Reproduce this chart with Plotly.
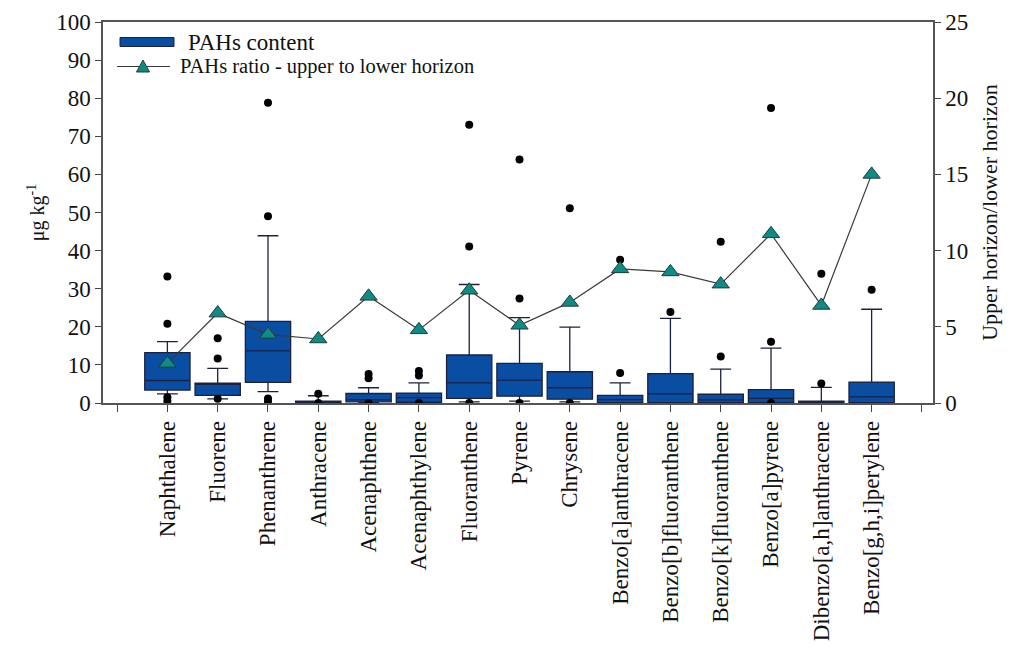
import plotly.graph_objects as go

# Compounds (x positions 1..15)
compounds = ["Naphthalene", "Fluorene", "Phenanthrene", "Anthracene", "Acenaphthene",
             "Acenaphthylene", "Fluoranthene", "Pyrene", "Chrysene", "Benzo[a]anthracene",
             "Benzo[b]fluoranthene", "Benzo[k]fluoranthene", "Benzo[a]pyrene",
             "Dibenzo[a,h]anthracene", "Benzo[g,h,i]perylene"]

# Box statistics, µg kg-1
lower_whisker = [2.4, 1.1, 3.0, 0.0, 0.1, 0.1, 0.3, 0.5, 0.3, 0.0, 0.0, 0.0, 0.0, 0.0, 0.0]
q1 = [3.4, 2.0, 5.4, 0.0, 0.3, 0.2, 1.2, 1.8, 1.0, 0.1, 0.1, 0.1, 0.1, 0.0, 0.1]
median = [5.9, 4.9, 13.7, 0.2, 0.8, 1.4, 5.3, 6.0, 4.0, 0.9, 2.4, 0.8, 1.2, 0.2, 1.6]
q3 = [13.2, 5.2, 21.4, 0.5, 2.5, 2.6, 12.6, 10.4, 8.2, 2.0, 7.7, 2.3, 3.5, 0.5, 5.5]
upper_whisker = [16.1, 9.1, 43.9, 1.9, 4.0, 5.3, 31.1, 22.4, 19.9, 5.3, 22.2, 8.9, 14.4, 4.1, 24.6]

# Outliers per compound
outliers = [
    [33.2, 20.8, 1.5, 0.5],
    [17.0, 11.7, 1.1],
    [78.8, 49.0, 1.2, 0.4],
    [2.4, 0.0],
    [7.6, 6.5, 0.0],
    [8.4, 7.2, 0.0],
    [73.0, 41.1, 0.0],
    [63.9, 27.4, 0.0],
    [51.1, 0.0],
    [37.6, 7.9],
    [23.9],
    [42.3, 12.2],
    [77.4, 16.1, 0.0],
    [33.9, 5.1],
    [29.7],
]

# Upper-to-lower horizon ratio
ratio = [2.6, 5.9, 4.5, 4.2, 7.0, 4.8, 7.4, 5.1, 6.6, 8.8, 8.6, 7.8, 11.1, 6.4, 15.0]

left_ticks = list(range(0, 101, 10))
right_ticks = list(range(0, 26, 5))

positions = list(range(1, len(compounds) + 1))

BLUE = "#0a4ea3"
TEAL = "#0f8a84"
SERIF = "Liberation Serif"
INK = "#111111"

W, H = 1011, 648
L, R, T, B = 103, 78, 22, 245
pw, ph = W - L - R, H - T - B


def px(x):
    return (x - L) / pw


def py(y):
    return (H - B - y) / ph


fig = go.Figure()

fig.add_trace(go.Box(
    x=positions, q1=q1, median=median, q3=q3,
    lowerfence=lower_whisker, upperfence=upper_whisker,
    width=0.9, whiskerwidth=0.46,
    fillcolor=BLUE, line=dict(color="#1b2240", width=1.3),
    boxpoints=False, showlegend=False, hoverinfo="skip",
))

ox, oy = [], []
for pos, vals in zip(positions, outliers):
    for v in vals:
        ox.append(pos)
        oy.append(v)
fig.add_trace(go.Scatter(
    x=ox, y=oy, mode="markers",
    marker=dict(color="black", size=8),
    showlegend=False,
))

fig.add_trace(go.Scatter(
    x=positions, y=ratio, mode="lines+markers", yaxis="y2",
    line=dict(color="#3a3a3a", width=1.2),
    marker=dict(symbol="triangle-up", size=15, color=TEAL,
                line=dict(color="#1f3b3a", width=1)),
    showlegend=False,
))

# Legend drawn with shapes and text
shapes = [
    dict(type="rect", xref="paper", yref="paper",
         x0=px(120), x1=px(174), y0=py(46.5), y1=py(37.5),
         fillcolor=BLUE, line=dict(color="#1b2240", width=1)),
    dict(type="line", xref="paper", yref="paper",
         x0=px(117), x1=px(170), y0=py(66.5), y1=py(66.5),
         line=dict(color="#3a3a3a", width=1.2)),
    dict(type="path", xref="paper", yref="paper",
         path=f"M {px(136.5)},{py(72)} L {px(149.5)},{py(72)} L {px(143)},{py(60)} Z",
         fillcolor=TEAL, line=dict(color="#1f3b3a", width=1)),
]
annotations = [
    dict(text="PAHs content", xref="paper", yref="paper", x=px(186), y=py(42),
         xanchor="left", yanchor="middle", showarrow=False,
         font=dict(family=SERIF, size=23, color=INK)),
    dict(text="PAHs ratio - upper to lower horizon", xref="paper", yref="paper",
         x=px(178), y=py(66), xanchor="left", yanchor="middle", showarrow=False,
         font=dict(family=SERIF, size=20.5, color=INK)),
]

fig.update_layout(
    width=W, height=H,
    margin=dict(l=L, r=R, t=T, b=B),
    paper_bgcolor="white", plot_bgcolor="white",
    font=dict(family=SERIF, color=INK),
    shapes=shapes, annotations=annotations,
    xaxis=dict(
        range=[-0.28, 16.22],
        tickmode="array",
        tickvals=[0] + positions + [16],
        ticktext=[""] + compounds + [""],
        tickangle=-90, tickfont=dict(family=SERIF, size=23, color=INK),
        ticks="outside", ticklen=7, tickcolor="#444",
        showline=True, linecolor="#555", linewidth=1.5, mirror=True,
        showgrid=False, zeroline=False, automargin=False,
    ),
    yaxis=dict(
        range=[0, 100], tickvals=left_ticks,
        tickfont=dict(family=SERIF, size=23, color=INK),
        ticks="outside", ticklen=6, tickcolor="#444",
        showline=True, linecolor="#555", linewidth=1.5,
        showgrid=False, zeroline=False, automargin=False,
        title=dict(text="μg kg<sup>-1</sup>", font=dict(family=SERIF, size=20, color=INK),
                   standoff=6),
    ),
    yaxis2=dict(
        range=[0, 25], tickvals=right_ticks,
        overlaying="y", side="right",
        tickfont=dict(family=SERIF, size=23, color=INK),
        ticks="outside", ticklen=6, tickcolor="#444",
        showline=True, linecolor="#555", linewidth=1.5,
        showgrid=False, zeroline=False, automargin=False,
        title=dict(text="Upper horizon/lower horizon",
                   font=dict(family=SERIF, size=22, color=INK), standoff=14),
    ),
)

fig.write_html("out.html")
